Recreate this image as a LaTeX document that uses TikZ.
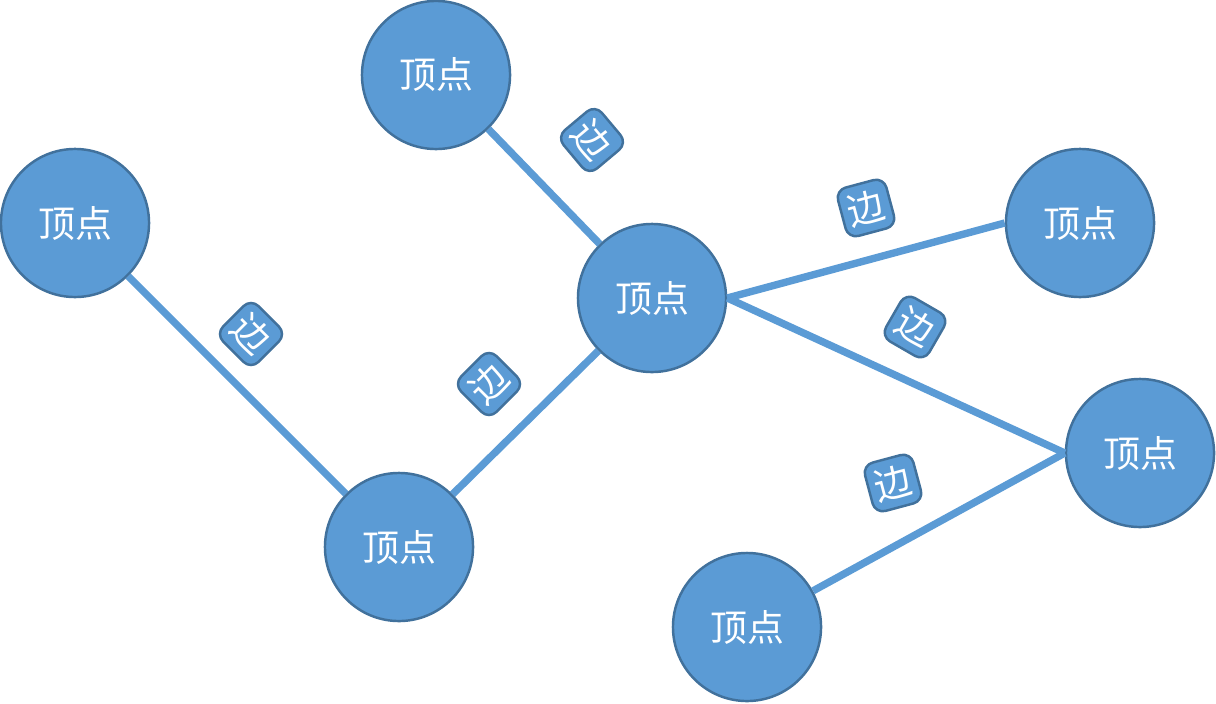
\documentclass[tikz,border=0pt]{standalone}
\usepackage{fontspec}
\newfontfamily\cjk{Noto Sans CJK SC}
\definecolor{fillb}{HTML}{5B9BD5}
\definecolor{edgeb}{HTML}{41719C}
\begin{document}
\begin{tikzpicture}[x=0.01cm,y=-0.01cm,
  vert/.style={circle,draw=edgeb,fill=fillb,line width=0.7pt,minimum size=1.48cm,inner sep=0pt,text=white,font=\cjk\fontsize{10.5}{12}\selectfont},
  lab/.style={draw=edgeb,fill=fillb,rounded corners=3pt,minimum size=0.5cm,inner sep=0pt,text=white,line width=0.7pt,font=\cjk\fontsize{10.5}{12}\selectfont},
  link/.style={draw=fillb,line width=2.1pt}]
\useasboundingbox (0,0) rectangle (1216,703);
\node[vert] (A) at (75,223) {顶点};
\node[vert] (B) at (436,75) {顶点};
\node[vert] (C) at (652,298) {顶点};
\node[vert] (D) at (399,547) {顶点};
\node[vert] (E) at (1080,223) {顶点};
\node[vert] (F) at (1140,453) {顶点};
\node[vert] (G) at (747,627) {顶点};
\path[link] (A) -- (D);
\path[link] (B) -- (C);
\path[link] (D) -- (C);
\path[link] (C.east) -- (E.west);
\path[link] (C.east) -- (F.west);
\path[link] (G) -- (F.west);
\node[lab,rotate=-45] (l1) at (251,334) {边};
\node[lab,rotate=-50] (l2) at (592,140) {边};
\node[lab,rotate=45] (l3) at (489,384) {边};
\node[lab,rotate=15] (l4) at (866,208) {边};
\node[lab,rotate=-30] (l5) at (915,327) {边};
\node[lab,rotate=15] (l6) at (893,483) {边};
\end{tikzpicture}
\end{document}
